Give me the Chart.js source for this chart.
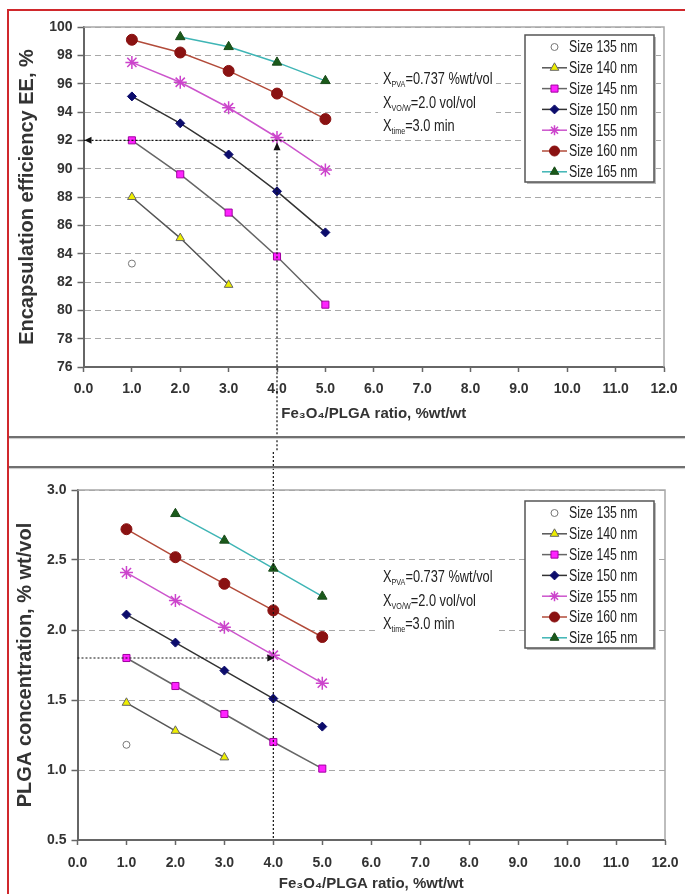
<!DOCTYPE html>
<html>
<head>
<meta charset="utf-8">
<script src="https://cdn.jsdelivr.net/npm/chart.js@4.4.1/dist/chart.umd.min.js"></script>
<style>
  html, body { margin: 0; padding: 0; background: #fff; }
  body { width: 685px; height: 894px; position: relative; overflow: hidden; }
  canvas { position: absolute; left: 0; }
  #ee-chart { top: 0; }
  #plga-chart { top: 452px; }
  .sep { position: absolute; left: 9px; right: 0; height: 2px; background: #707070; box-shadow: 0 1px 1px #c8c8c8; }
  .frame { position: absolute; left: 7px; top: 9px; right: -10px; bottom: -10px;
           border-left: 2px solid #d0282c; border-top: 2px solid #d0282c; pointer-events: none; }
</style>
</head>
<body>
<canvas id="ee-chart" width="685" height="452"></canvas>
<canvas id="plga-chart" width="685" height="442"></canvas>
<div class="sep" style="top:436px"></div>
<div class="sep" style="top:466px"></div>
<div class="frame"></div>
<script>
const ratios = [1.0, 2.0, 3.0, 4.0, 5.0];
const sizeLabels = ['Size 135 nm', 'Size 140 nm', 'Size 145 nm', 'Size 150 nm',
                    'Size 155 nm', 'Size 160 nm', 'Size 165 nm'];

// Encapsulation efficiency EE, %
const ee135 = [83.3, null, null, null, null];
const ee140 = [88.0, 85.1, 81.8, null, null];
const ee145 = [92.0, 89.6, 86.9, 83.8, 80.4];
const ee150 = [95.1, 93.2, 91.0, 88.4, 85.5];
const ee155 = [97.5, 96.1, 94.3, 92.2, 89.9];
const ee160 = [99.1, 98.2, 96.9, 95.3, 93.5];
const ee165 = [null, 99.3, 98.6, 97.5, 96.2];

// PLGA concentration, % wt/vol
const plga135 = [1.18, null, null, null, null];
const plga140 = [1.48, 1.28, 1.09, null, null];
const plga145 = [1.80, 1.60, 1.40, 1.20, 1.01];
const plga150 = [2.11, 1.91, 1.71, 1.51, 1.31];
const plga155 = [2.41, 2.21, 2.02, 1.82, 1.62];
const plga160 = [2.72, 2.52, 2.33, 2.14, 1.95];
const plga165 = [null, 2.83, 2.64, 2.44, 2.24];

// axis ranges
const ratioRange = [0, 12, 1];
const eeRange = [76, 100, 2];
const plgaRange = [0.5, 3.0, 0.5];

// design point
const targetRatio = 4.0;
const targetEE = 92;
const targetPLGA = 1.8;

const conditions = [
    ['X', 'PVA', '=0.737 %wt/vol'],
    ['X', 'VO/W', '=2.0 vol/vol'],
    ['X', 'time', '=3.0 min']
];

const sans = "'Liberation Sans', Arial, sans-serif";

// marker / line look for each size
const seriesStyle = [
    { pointStyle: 'circle',   radius: 3.5, fill: '#ffffff', edge: '#777777', line: null },
    { pointStyle: 'triangle', radius: 5,   fill: '#eeee00', edge: '#666666', line: '#555555' },
    { pointStyle: 'rect',     radius: 5,   fill: '#ff22ff', edge: '#a000a0', line: '#666666' },
    { pointStyle: 'rectRot',  radius: 4.5, fill: '#0c0c6c', edge: '#0c0c6c', line: '#333333' },
    { pointStyle: 'star',     radius: 6.5, fill: '#cc44cc', edge: '#cc44cc', line: '#cc55cc' },
    { pointStyle: 'circle',   radius: 5.5, fill: '#8a1212', edge: '#8a1212', line: '#b24b3a' },
    { pointStyle: 'triangle', radius: 5.5, fill: '#1a5a1a', edge: '#1a4a1a', line: '#3fb5b5' }
];

function makeDatasets(seriesList) {
    return seriesList.map((values, i) => {
        const st = seriesStyle[i];
        return {
            label: sizeLabels[i],
            data: ratios.map((x, j) => ({ x: x, y: values[j] })),
            showLine: st.line !== null,
            borderColor: st.line || st.edge,
            borderWidth: 1.5,
            pointStyle: st.pointStyle,
            pointRadius: st.radius,
            pointBackgroundColor: st.fill,
            pointBorderColor: st.edge,
            pointBorderWidth: st.pointStyle === 'star' ? 1.5 : 1,
            tension: 0
        };
    });
}

// fake a narrow face for the small labels
function narrowText(ctx, text, x, y, squeeze) {
    ctx.save();
    ctx.translate(x, y);
    ctx.scale(squeeze, 1);
    ctx.fillText(text, 0, 0);
    ctx.restore();
    return ctx.measureText(text).width * squeeze;
}

function dotted(ctx, x1, y1, x2, y2) {
    ctx.save();
    ctx.strokeStyle = '#111';
    ctx.lineWidth = 1.2;
    ctx.setLineDash([2, 2]);
    ctx.beginPath();
    ctx.moveTo(x1, y1);
    ctx.lineTo(x2, y2);
    ctx.stroke();
    ctx.restore();
}

function arrowHead(ctx, x, y, dir) {
    // tip at (x, y)
    ctx.save();
    ctx.fillStyle = '#111';
    ctx.beginPath();
    ctx.moveTo(x, y);
    if (dir === 'left') { ctx.lineTo(x + 7, y - 3.5); ctx.lineTo(x + 7, y + 3.5); }
    if (dir === 'right') { ctx.lineTo(x - 7, y - 3.5); ctx.lineTo(x - 7, y + 3.5); }
    if (dir === 'up') { ctx.lineTo(x - 3.5, y + 8); ctx.lineTo(x + 3.5, y + 8); }
    ctx.closePath();
    ctx.fill();
    ctx.restore();
}

function drawConditions(ctx, x, y) {
    ctx.save();
    ctx.fillStyle = '#fff';
    ctx.fillRect(x - 5, y - 12, 118, 70);
    ctx.fillStyle = '#222';
    ctx.textBaseline = 'middle';
    conditions.forEach((c, i) => {
        const yy = y + i * 23.5;
        let xx = x;
        ctx.font = '16px ' + sans;
        xx += narrowText(ctx, c[0], xx, yy, 0.8);
        ctx.font = '9px ' + sans;
        xx += narrowText(ctx, c[1], xx, yy + 5, 0.8);
        ctx.font = '16px ' + sans;
        narrowText(ctx, c[2], xx, yy, 0.8);
    });
    ctx.restore();
}

function drawLegendBox(chart, x, y) {
    const ctx = chart.ctx;
    const w = 129, h = 147;
    ctx.save();
    ctx.fillStyle = '#bbbbbb';
    ctx.fillRect(x + 2, y + 2, w, h);
    ctx.fillStyle = '#ffffff';
    ctx.fillRect(x, y, w, h);
    ctx.strokeStyle = '#555';
    ctx.lineWidth = 1.5;
    ctx.strokeRect(x, y, w, h);
    chart.data.datasets.forEach((ds, i) => {
        const yy = y + 12 + i * 20.8;
        if (ds.showLine) {
            ctx.strokeStyle = ds.borderColor;
            ctx.lineWidth = 1.5;
            ctx.beginPath();
            ctx.moveTo(x + 17, yy);
            ctx.lineTo(x + 42, yy);
            ctx.stroke();
        }
        ctx.fillStyle = ds.pointBackgroundColor;
        ctx.strokeStyle = ds.pointBorderColor;
        ctx.lineWidth = ds.pointBorderWidth;
        Chart.helpers.drawPoint(ctx, {
            pointStyle: ds.pointStyle,
            radius: Math.min(ds.pointRadius, 5),
            rotation: 0,
            borderWidth: ds.pointBorderWidth
        }, x + 29.5, yy);
        ctx.fillStyle = '#222';
        ctx.font = '16px ' + sans;
        ctx.textBaseline = 'middle';
        narrowText(ctx, ds.label, x + 44, yy + 1, 0.77);
    });
    ctx.restore();
}

// top & right frame of the plot area
const plotFrame = {
    id: 'plotFrame',
    afterDraw(chart) {
        const { ctx, chartArea: a } = chart;
        ctx.save();
        ctx.strokeStyle = '#a8a8a8';
        ctx.lineWidth = 1.5;
        ctx.beginPath();
        ctx.moveTo(a.left, a.top);
        ctx.lineTo(a.right, a.top);
        ctx.lineTo(a.right, a.bottom);
        ctx.stroke();
        ctx.restore();
    }
};

function scales(range, yTitle, yTick, yWidth, xHeight, xPad, titlePad) {
    return {
        x: {
            type: 'linear',
            min: ratioRange[0], max: ratioRange[1],
            afterFit: s => {
                s.height = xHeight;
                s.paddingLeft = 0;
                s.paddingRight = 0;
            },
            ticks: {
                stepSize: ratioRange[2],
                padding: xPad,
                color: '#333',
                font: { family: sans, size: 14, weight: 'bold' },
                callback: v => v.toFixed(1)
            },
            grid: { drawOnChartArea: false, drawTicks: true, tickLength: 5, tickColor: '#666', tickWidth: 1.5 },
            border: { color: '#666', width: 2 },
            title: {
                display: true,
                text: 'Fe₃O₄/PLGA ratio, %wt/wt',
                color: '#333',
                font: { family: sans, size: 15, weight: 'bold' },
                padding: { top: 0, bottom: titlePad }
            }
        },
        y: {
            type: 'linear',
            min: range[0], max: range[1],
            afterFit: s => { s.width = yWidth; },
            ticks: {
                stepSize: range[2],
                padding: 5,
                color: '#333',
                font: { family: sans, size: 14, weight: 'bold' },
                callback: yTick
            },
            grid: { color: '#a8a8a8', lineWidth: 1, tickLength: 6, tickColor: '#666', tickWidth: 1.5 },
            border: { color: '#666', width: 2, dash: [6, 4] },
            title: {
                display: true,
                text: yTitle,
                color: '#333',
                font: { family: sans, size: 20, weight: 'bold' },
                padding: { top: 0, bottom: 4 }
            }
        }
    };
}

const eeOverlay = {
    id: 'eeOverlay',
    beforeDatasetsDraw(chart) {
        drawConditions(chart.ctx, 383, 80);
    },
    afterDatasetsDraw(chart) {
        const { ctx, chartArea: a, scales: { x, y } } = chart;
        const px = x.getPixelForValue(targetRatio);
        const py = y.getPixelForValue(targetEE);
        dotted(ctx, a.left, py, x.getPixelForValue(4.75), py);
        dotted(ctx, px, py + 8, px, chart.height);
        arrowHead(ctx, a.left + 1, py, 'left');
        arrowHead(ctx, px, py + 2, 'up');
        drawLegendBox(chart, 525, 35);
    }
};

const plgaOverlay = {
    id: 'plgaOverlay',
    beforeDatasetsDraw(chart) {
        drawConditions(chart.ctx, 383, 126);
    },
    afterDatasetsDraw(chart) {
        const { ctx, chartArea: a, scales: { x, y } } = chart;
        const px = x.getPixelForValue(targetRatio);
        const py = y.getPixelForValue(targetPLGA);
        dotted(ctx, a.left, py, px - 6, py);
        dotted(ctx, px, 0, px, a.bottom);
        arrowHead(ctx, px + 1, py, 'right');
        drawLegendBox(chart, 525, 49);
    }
};

const commonOptions = {
    responsive: false,
    animation: false,
    plugins: { legend: { display: false }, tooltip: { enabled: false } }
};

new Chart(document.getElementById('ee-chart').getContext('2d'), {
    type: 'line',
    data: { datasets: makeDatasets([ee135, ee140, ee145, ee150, ee155, ee160, ee165]) },
    options: Object.assign({}, commonOptions, {
        layout: { padding: { left: 15, right: 21, top: 27, bottom: 25 } },
        scales: scales(eeRange, 'Encapsulation efficiency EE, %', v => v.toFixed(0), 68.5, 60, 9, 4)
    }),
    plugins: [plotFrame, eeOverlay]
});

new Chart(document.getElementById('plga-chart').getContext('2d'), {
    type: 'line',
    data: { datasets: makeDatasets([plga135, plga140, plga145, plga150, plga155, plga160, plga165]) },
    options: Object.assign({}, commonOptions, {
        layout: { padding: { left: 13, right: 20, top: 38, bottom: 0 } },
        scales: scales(plgaRange, 'PLGA concentration, % wt/vol', v => v.toFixed(1), 64.5, 54, 10, 1)
    }),
    plugins: [plotFrame, plgaOverlay]
});
</script>
</body>
</html>
